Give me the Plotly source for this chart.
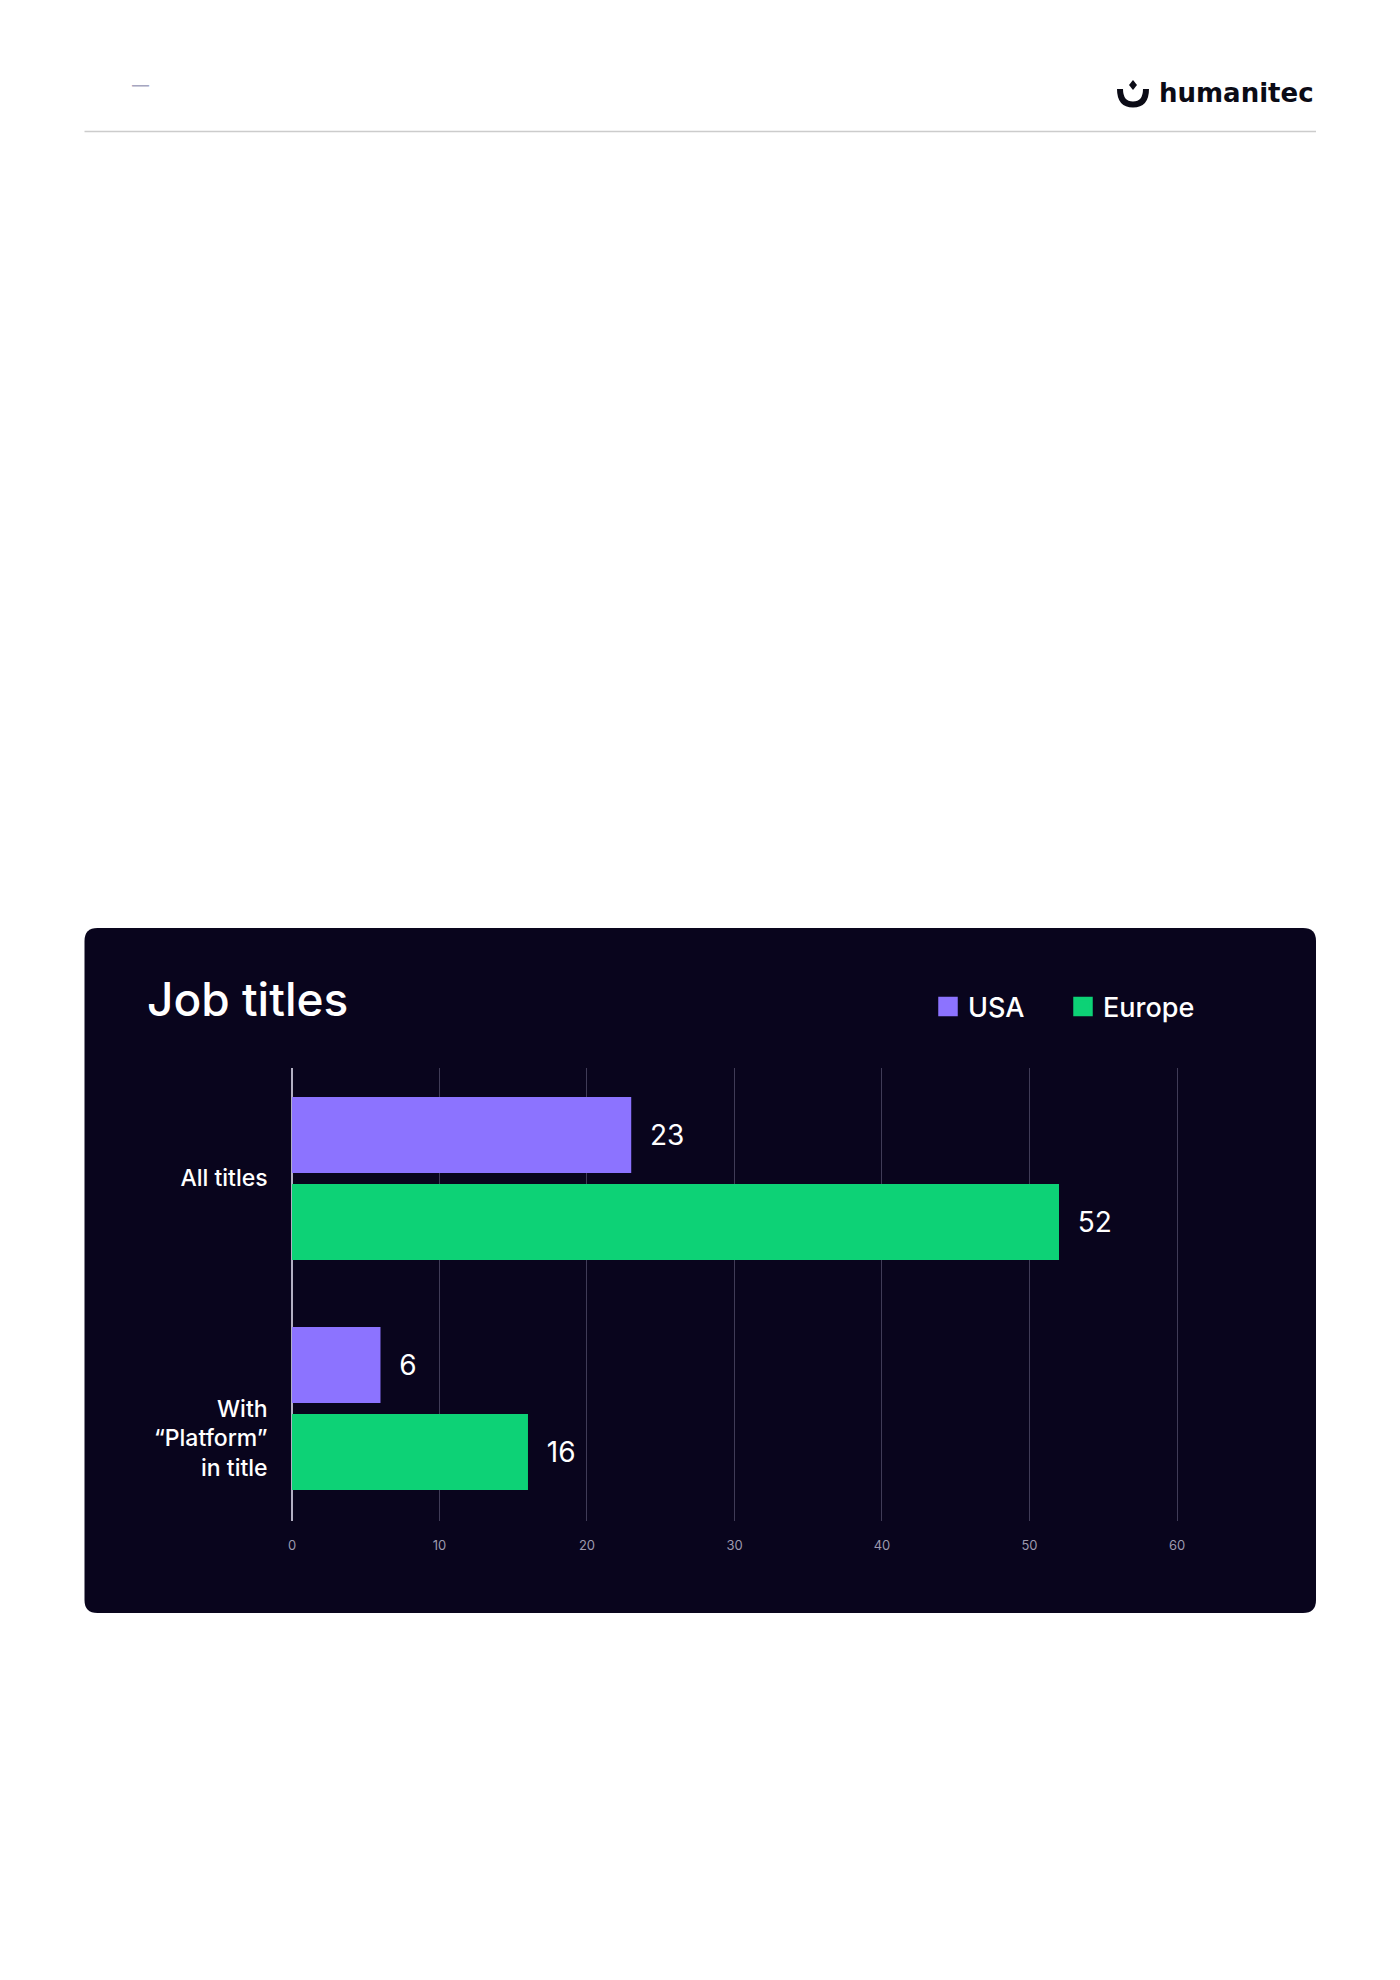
import plotly.graph_objects as go

W, H = 1400, 1980

# ---- data ----
categories = ["All titles", "With “Platform” in title"]
tick_labels = ["All titles", "<br><br>With<br>“Platform”<br>in title"]
series_names = ["USA", "Europe"]
usa_values = [23, 6]
europe_values = [52, 16]
x_tick_values = [0, 10, 20, 30, 40, 50, 60]
x_tick_labels = ["0", "10", "20", "30", "40", "50", "60"]

USA_COLOR = "#8C73FF"
EUROPE_COLOR = "#0DD276"
PANEL = "#09051D"
FONT = "Inter"


def px(x):
    return x / W


def py(y):
    return 1 - y / H


fig = go.Figure()

series = [(series_names[0], usa_values, USA_COLOR), (series_names[1], europe_values, EUROPE_COLOR)]
for name, vals, col in series:
    fig.add_trace(go.Bar(
        y=categories, x=vals, orientation="h", name=name,
        marker=dict(color=col, line=dict(width=0)),
        text=vals, texttemplate="\u00a0\u00a0%{x}", textposition="outside",
        outsidetextfont=dict(family=FONT, size=28, color="#FFFFFF"),
        cliponaxis=False, constraintext="none",
        showlegend=False, legendgroup=name, hoverinfo="skip",
    ))

for name, vals, col in series:
    fig.add_trace(go.Scatter(
        x=[None], y=[None], mode="markers", name=name, legendgroup=name,
        marker=dict(symbol="square", size=16, color=col, line=dict(width=3.5, color=col)),
        hoverinfo="skip",
    ))

# ---- decorative shapes ----
L, R, T, B, r = 84.5, 1316, 928, 1613, 13


def P(x, y):
    return f"{px(x):.6f},{py(y):.6f}"


panel_path = (
    f"M {P(L + r, T)} L {P(R - r, T)} Q {P(R, T)} {P(R, T + r)} "
    f"L {P(R, B - r)} Q {P(R, B)} {P(R - r, B)} "
    f"L {P(L + r, B)} Q {P(L, B)} {P(L, B - r)} "
    f"L {P(L, T + r)} Q {P(L, T)} {P(L + r, T)} Z"
)

shapes = [
    dict(type="path", xref="paper", yref="paper", path=panel_path,
         fillcolor=PANEL, line=dict(width=0), layer="below"),
    dict(type="line", xref="paper", yref="paper", x0=px(84.5), x1=px(1316),
         y0=py(131.5), y1=py(131.5), line=dict(color="#CCCCCC", width=1.5)),
    dict(type="path", xref="paper", yref="paper",
         path=f"M {P(1120, 89)} Q {P(1120, 104.5)} {P(1133, 104.5)} Q {P(1146, 104.5)} {P(1146, 89)}",
         line=dict(color="#0B0B16", width=6)),
    dict(type="path", xref="paper", yref="paper",
         path=f"M {P(1133, 80)} L {P(1137, 85)} L {P(1133, 90)} L {P(1129, 85)} Z",
         fillcolor="#0B0B16", line=dict(width=0)),
]

annotations = [
    dict(text="Job titles", xref="paper", yref="paper", x=px(145), y=py(998.5),
         xanchor="left", yanchor="middle", showarrow=False,
         font=dict(family=FONT, size=46, color="#FFFFFF", weight=500)),
    dict(text="—", xref="paper", yref="paper", x=px(140), y=py(85),
         xanchor="center", yanchor="middle", showarrow=False,
         font=dict(family=FONT, size=17, color="#A6A6C0")),
    dict(text="humanitec", xref="paper", yref="paper", x=px(1316), y=py(93),
         xanchor="right", yanchor="middle", showarrow=False,
         font=dict(family="DejaVu Sans", size=26, color="#0B0B16", weight=700)),
]

fig.update_layout(
    width=W, height=H, autosize=False,
    margin=dict(l=0, r=0, t=0, b=0, pad=0),
    paper_bgcolor="#FFFFFF", plot_bgcolor="rgba(0,0,0,0)",
    barmode="group", bargap=0.2435, bargroupgap=0.126,
    font=dict(family=FONT, color="#FFFFFF"),
    shapes=shapes, annotations=annotations,
    legend=dict(orientation="h", x=px(928), xanchor="left", y=py(1007), yanchor="middle",
                font=dict(family=FONT, size=27, color="#FFFFFF", weight=500),
                bgcolor="rgba(0,0,0,0)", borderwidth=0, entrywidth=90,
                itemclick=False, itemdoubleclick=False),
    xaxis=dict(
        domain=[px(284.6), px(1206.5)], range=[-0.5, 62],
        tickmode="array", tickvals=x_tick_values, ticktext=x_tick_labels,
        showgrid=True, gridcolor="#403C57", gridwidth=1,
        zeroline=True, zerolinecolor="#B3B0C3", zerolinewidth=2,
        showline=False, ticks="", ticklabelstandoff=15,
        tickfont=dict(family=FONT, size=13, color="#9C99AE"),
        fixedrange=True,
    ),
    yaxis=dict(
        domain=[py(1521), py(1068)], type="category",
        categoryorder="array", categoryarray=categories,
        range=[1.489, -0.480],
        tickmode="array", tickvals=categories, ticktext=tick_labels,
        showgrid=False, zeroline=False, showline=False, ticks="",
        ticklabelstandoff=16,
        tickfont=dict(family=FONT, size=23, color="#FFFFFF", weight=500),
        fixedrange=True,
    ),
)

fig.write_html(
    "out.html",
    config=dict(displayModeBar=False),
    post_script="document.body.style.margin='0px';document.body.style.overflow='hidden';",
)
